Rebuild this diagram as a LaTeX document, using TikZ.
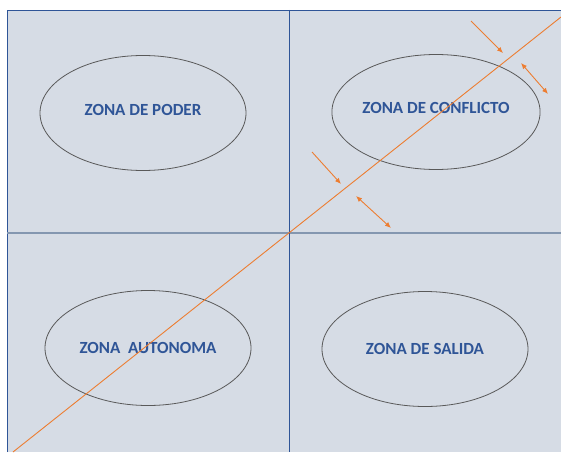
\documentclass[tikz,border=0pt]{standalone}
\usepackage{fontspec}
\setmainfont{Carlito}
\usetikzlibrary{shapes.geometric,arrows.meta}
\definecolor{fondo}{HTML}{D6DCE5}
\definecolor{azul}{HTML}{2F5597}
\definecolor{ejes}{HTML}{8497B0}
\definecolor{naranja}{HTML}{ED7D31}
\definecolor{borde}{HTML}{595959}
\tikzset{
  zona/.style={ellipse, draw=borde, line width=0.8pt, minimum width=206pt,
    minimum height=115pt, inner sep=0pt, text=azul,
    font=\fontsize{17}{19}\selectfont\bfseries},
  flecha/.style={naranja, line width=0.9pt},
}
\begin{document}
\begin{tikzpicture}[x=1pt, y=-1pt, >={Latex[length=6pt,width=5pt]}]
\useasboundingbox (0,0) rectangle (561,452);
\fill[fondo] (7,10) rectangle (561,452);
\draw[azul, line width=0.8pt] (7,452)--(7,10)--(561,10);
\draw[ejes, line width=1.2pt] (7,233)--(561,233);
\draw[azul, line width=0.7pt] (289,10)--(289,452);
\node[zona, text depth=7pt] (poder) at (143,113) {ZONA DE PODER};
\node[zona, text depth=8pt] (conflicto) at (436,112) {ZONA DE CONFLICTO};
\node[zona] (autonoma) at (148,348) {ZONA\ \ AUTONOMA};
\node[zona] (salida) at (425,349) {ZONA DE SALIDA};
% diagonal
\coordinate (d1) at (13,452);
\coordinate (d2) at (561,17);
\draw[flecha] (d1)--(d2);
% flechas
\coordinate (a1) at (471,21); \coordinate (b1) at (503,53);
\coordinate (a2) at (521,63); \coordinate (b2) at (548,94);
\coordinate (a3) at (312,152); \coordinate (b3) at (341,184);
\coordinate (a4) at (356,196); \coordinate (b4) at (391,228);
\draw[flecha,->] (a1)--(b1);
\draw[flecha,<->] (a2)--(b2);
\draw[flecha,->] (a3)--(b3);
\draw[flecha,<->] (a4)--(b4);
\end{tikzpicture}
\end{document}
